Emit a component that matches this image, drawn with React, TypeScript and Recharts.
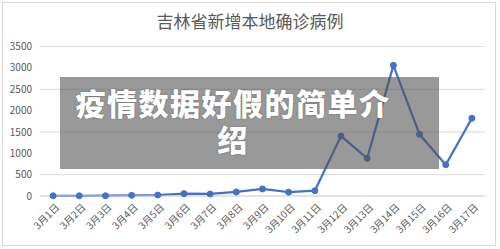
import { CartesianGrid, Line, LineChart, XAxis, YAxis } from "recharts";

const days = [
  "3月1日", "3月2日", "3月3日", "3月4日", "3月5日", "3月6日", "3月7日", "3月8日", "3月9日",
  "3月10日", "3月11日", "3月12日", "3月13日", "3月14日", "3月15日", "3月16日", "3月17日",
];
const cases = [5, 5, 6, 15, 22, 55, 47, 94, 164, 90, 124, 1405, 883, 3061, 1445, 733, 1820];
const yTicks = [0, 500, 1000, 1500, 2000, 2500, 3000, 3500];
const boundaryTicks = Array.from({ length: 18 }, (_, i) => i);

const chartTitle = "吉林省新增本地确诊病例";
const overlayTitle = ["疫情数据好假的简单介", "绍"];

const data = days.map((d, i) => ({ day: d, val: cases[i] }));

const FONT = "'Noto Sans CJK SC', 'Noto Sans', sans-serif";

const DayTick = (props: any) => {
  const { x, payload } = props;
  return (
    <g transform={`translate(${x + 2},${203}) rotate(-45)`}>
      <text x={0} y={0} dy="0.7em" textAnchor="end" fill="#595959" fontSize={10} fontFamily={FONT}>
        {payload.value}
      </text>
    </g>
  );
};

const App = () => {
  return (
    <div style={{ position: "absolute", left: 0, top: 0, width: 500, height: 249, background: "#fff", fontFamily: FONT }}>
      <div
        style={{
          position: "absolute", left: 2, top: 2, width: 494, height: 244,
          border: "1px solid #d9d9d9", boxSizing: "border-box",
        }}
      />
      <div
        style={{
          position: "absolute", left: 0, top: 8, width: 500, textAlign: "center",
          fontSize: 17, color: "#595959",
        }}
      >
        {chartTitle}
      </div>
      <div style={{ position: "absolute", left: 0, top: 0 }}>
        <LineChart width={500} height={249} data={data} margin={{ top: 46.6, right: 15, left: 0, bottom: 0 }}>
          <CartesianGrid vertical={false} stroke="#d9d9d9" />
          <XAxis
            xAxisId="b"
            type="number"
            domain={[0, 17]}
            ticks={boundaryTicks}
            tick={false}
            tickSize={4}
            axisLine={false}
            tickLine={{ stroke: "#d9d9d9" }}
            height={1}
          />
          <XAxis
            dataKey="day"
            interval={0}
            height={52}
            padding={{ left: 13.1, right: 13.1 }}
            axisLine={{ stroke: "#d9d9d9" }}
            tickLine={false}
            tick={<DayTick />}
          />
          <YAxis
            domain={[0, 3500]}
            ticks={yTicks}
            width={40}
            axisLine={false}
            tickLine={false}
            tick={{ fill: "#595959", fontSize: 10, fontFamily: FONT }}
          />
          <Line
            type="linear"
            dataKey="val"
            stroke="#4472C4"
            strokeWidth={2.25}
            dot={{ r: 3, fill: "#4472C4", stroke: "#4472C4", strokeWidth: 1 }}
            isAnimationActive={false}
          />
        </LineChart>
      </div>
      <div
        style={{
          position: "absolute", left: 60, top: 77, width: 379, height: 92,
          background: "rgba(85,85,85,0.6)",
        }}
      />
      <div
        style={{
          position: "absolute", left: 58, top: 84, width: 350, textAlign: "center",
          color: "#fff", fontWeight: 900, fontSize: 30, lineHeight: "36px", letterSpacing: 1.5,
          textShadow: "0 0 2px rgba(0,0,0,0.35)",
        }}
      >
        <div>{overlayTitle[0]}</div>
        <div>{overlayTitle[1]}</div>
      </div>
    </div>
  );
};

export default App;
